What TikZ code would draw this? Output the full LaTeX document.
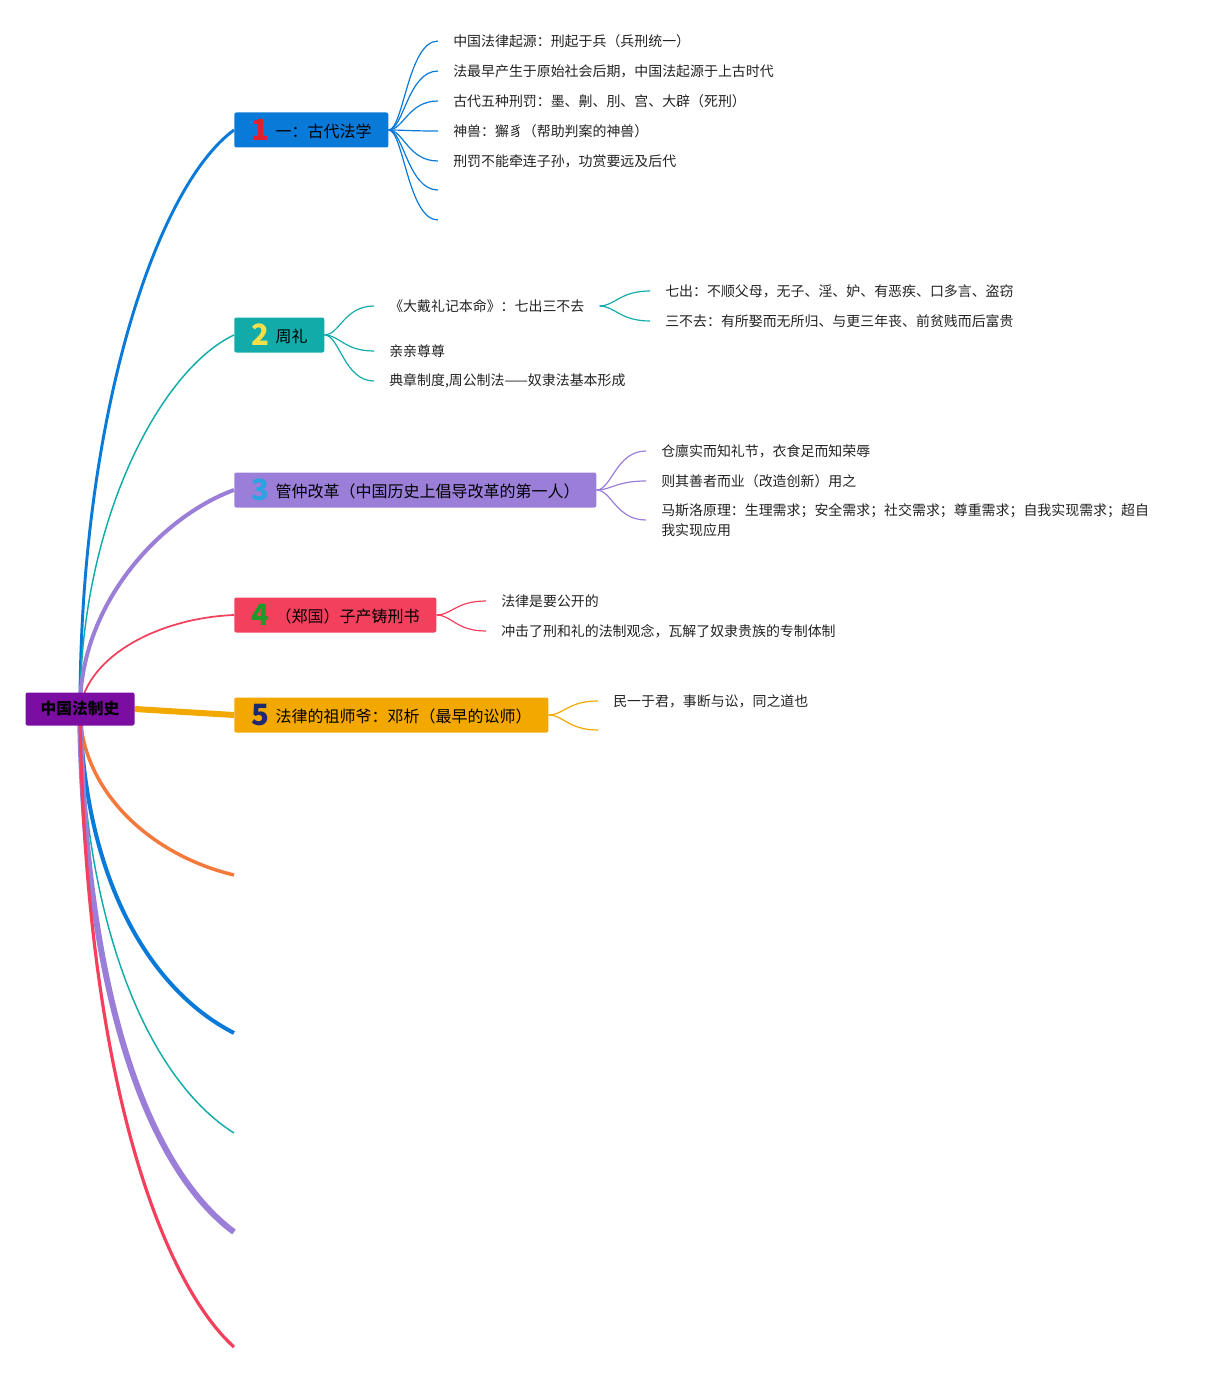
\documentclass[tikz,border=0pt]{standalone}
\usepackage{fontspec}
\setmainfont{Noto Sans CJK SC}
\usetikzlibrary{backgrounds}
\definecolor{cRoot}{HTML}{7B0DA3}
\definecolor{cBlue}{HTML}{0A7AD8}
\definecolor{cTeal}{HTML}{11ACAA}
\definecolor{cLav}{HTML}{9A7ED8}
\definecolor{cRed}{HTML}{F2405D}
\definecolor{cOrg}{HTML}{F3A800}
\definecolor{cOrg2}{HTML}{F5793B}
\definecolor{nRed}{HTML}{E0202E}
\definecolor{nYel}{HTML}{F6E04A}
\definecolor{nBlue}{HTML}{2AA3E3}
\definecolor{nGreen}{HTML}{1E9A2A}
\definecolor{nNavy}{HTML}{1F2A6E}
\definecolor{txt}{HTML}{222222}
\newcommand{\bignum}[2]{\raisebox{-2.5pt}{\color{#1}\fontsize{22pt}{22pt}\selectfont\bfseries #2}\hspace{5pt}}
\begin{document}
\begin{tikzpicture}[x=0.75pt,y=-0.75pt,
  topic/.style={anchor=west,rounded corners=1.5pt,minimum height=26.25pt,inner sep=0pt,
    font=\fontsize{12pt}{14pt}\selectfont,text=black},
  rootbox/.style={rounded corners=1.5pt,minimum width=81.75pt,minimum height=24.75pt,inner sep=0pt,
    fill=cRoot,font=\fontsize{11.8pt}{14pt}\selectfont\bfseries,text=black},
  leaf/.style={anchor=west,inner xsep=11.25pt,inner ysep=1pt,font=\fontsize{10.45pt}{15pt}\selectfont,text=txt,align=left},
  twig/.style={line width=0.9pt}
]
\useasboundingbox (0,0) rectangle (1221,1373);
% root and topics
\node[rootbox] (root) at (80,709) {中国法制史};
\node[topic,fill=cBlue,minimum width=115.5pt] (t1) at (234,130) {\bignum{nRed}{1}一：古代法学};
\node[topic,fill=cTeal,minimum width=67.5pt] (t2) at (234,335) {\bignum{nYel}{2}周礼};
\node[topic,fill=cLav,minimum width=271.5pt] (t3) at (234,490) {\bignum{nBlue}{3}管仲改革（中国历史上倡导改革的第一人）};
\node[topic,fill=cRed,minimum width=151.5pt] (t4) at (234,615) {\bignum{nGreen}{4}（郑国）子产铸刑书};
\node[topic,fill=cOrg,minimum width=235.5pt] (t5) at (234,715) {\bignum{nNavy}{5}法律的祖师爷：邓析（最早的讼师）};
% empty ends
\coordinate (e1) at (234,875);
\coordinate (e2) at (234,1033);
\coordinate (e3) at (234,1133);
\coordinate (e4) at (234,1232);
\coordinate (e5) at (234,1347);
\coordinate (o) at (80,709);
% leaves of 1
\node[leaf] (a1) at (438,41) {中国法律起源：刑起于兵（兵刑统一）};
\node[leaf] (a2) at (438,71) {法最早产生于原始社会后期，中国法起源于上古时代};
\node[leaf] (a3) at (438,101) {古代五种刑罚：墨、劓、刖、宫、大辟（死刑）};
\node[leaf] (a4) at (438,131) {神兽：獬豸（帮助判案的神兽）};
\node[leaf] (a5) at (438,161) {刑罚不能牵连子孙，功赏要远及后代};
\coordinate (a6) at (438,190);
\coordinate (a7) at (438,220);
% leaves of 2
\node[leaf] (b1) at (374,306) {《大戴礼记本命》：七出三不去};
\node[leaf] (b2) at (374,351) {亲亲尊尊};
\node[leaf] (b3) at (374,381) {典章制度,周公制法——奴隶法基本形成};
\node[leaf] (b11) at (650,291) {七出：不顺父母，无子、淫、妒、有恶疾、口多言、盗窃};
\node[leaf] (b12) at (650,321) {三不去：有所娶而无所归、与更三年丧、前贫贱而后富贵};
% leaves of 3
\node[leaf] (c1) at (646,451) {仓廪实而知礼节，衣食足而知荣辱};
\node[leaf] (c2) at (646,481) {则其善者而业（改造创新）用之};
\node[leaf,anchor=north west] (c3) at (646,502) {马斯洛原理：生理需求；安全需求；社交需求；尊重需求；自我实现需求；超自\\我实现应用};
\coordinate (c3w) at (646,520);
% leaves of 4
\node[leaf] (d1) at (486,601) {法律是要公开的};
\node[leaf] (d2) at (486,631) {冲击了刑和礼的法制观念，瓦解了奴隶贵族的专制体制};
% leaves of 5
\node[leaf] (f1) at (598,701) {民一于君，事断与讼，同之道也};
\coordinate (f2) at (598,730);
\begin{pgfonlayer}{background}
% main branches
\draw[cBlue,line width=2.2pt] (o) .. controls (80,420) and (155,188) .. (t1.west);
\draw[cTeal,line width=1.1pt] (o) .. controls (80,522) and (160,370) .. (t2.west);
\draw[cLav,line width=3pt] (o) .. controls (80,600) and (165,515) .. (t3.west);
\draw[cRed,line width=1.3pt] (o) .. controls (88,655) and (160,618) .. (t4.west);
\draw[cOrg,line width=4.5pt] (root.east) -- (t5.west);
\draw[cOrg2,line width=2.6pt] (o) .. controls (80,790) and (150,855) .. (e1);
\draw[cBlue,line width=3pt] (o) .. controls (84,880) and (150,990) .. (e2);
\draw[cTeal,line width=1.1pt] (o) .. controls (84,930) and (150,1080) .. (e3);
\draw[cLav,line width=4.5pt] (o) .. controls (84,1000) and (150,1170) .. (e4);
\draw[cRed,line width=2.4pt] (o) .. controls (84,1070) and (160,1280) .. (e5);
% twigs 1
\foreach \t in {a1,a2,a3,a4,a5}
  \draw[twig,cBlue] (t1.east) .. controls +(15,0) and +(-30,0) .. (\t.west);
\foreach \t in {a6,a7}
  \draw[twig,cBlue] (t1.east) .. controls +(15,0) and +(-30,0) .. (\t);
% twigs 2
\foreach \t in {b1,b2,b3}
  \draw[twig,cTeal] (t2.east) .. controls +(15,0) and +(-30,0) .. (\t.west);
\foreach \t in {b11,b12}
  \draw[twig,cTeal] (b1.east) .. controls +(15,0) and +(-30,0) .. (\t.west);
% twigs 3
\foreach \t in {c1,c2}
  \draw[twig,cLav] (t3.east) .. controls +(15,0) and +(-30,0) .. (\t.west);
\draw[twig,cLav] (t3.east) .. controls +(15,0) and +(-30,0) .. (c3w);
% twigs 4
\foreach \t in {d1,d2}
  \draw[twig,cRed] (t4.east) .. controls +(15,0) and +(-30,0) .. (\t.west);
% twigs 5
\draw[twig,cOrg] (t5.east) .. controls +(15,0) and +(-30,0) .. (f1.west);
\draw[twig,cOrg] (t5.east) .. controls +(15,0) and +(-30,0) .. (f2);
\end{pgfonlayer}
\end{tikzpicture}
\end{document}
